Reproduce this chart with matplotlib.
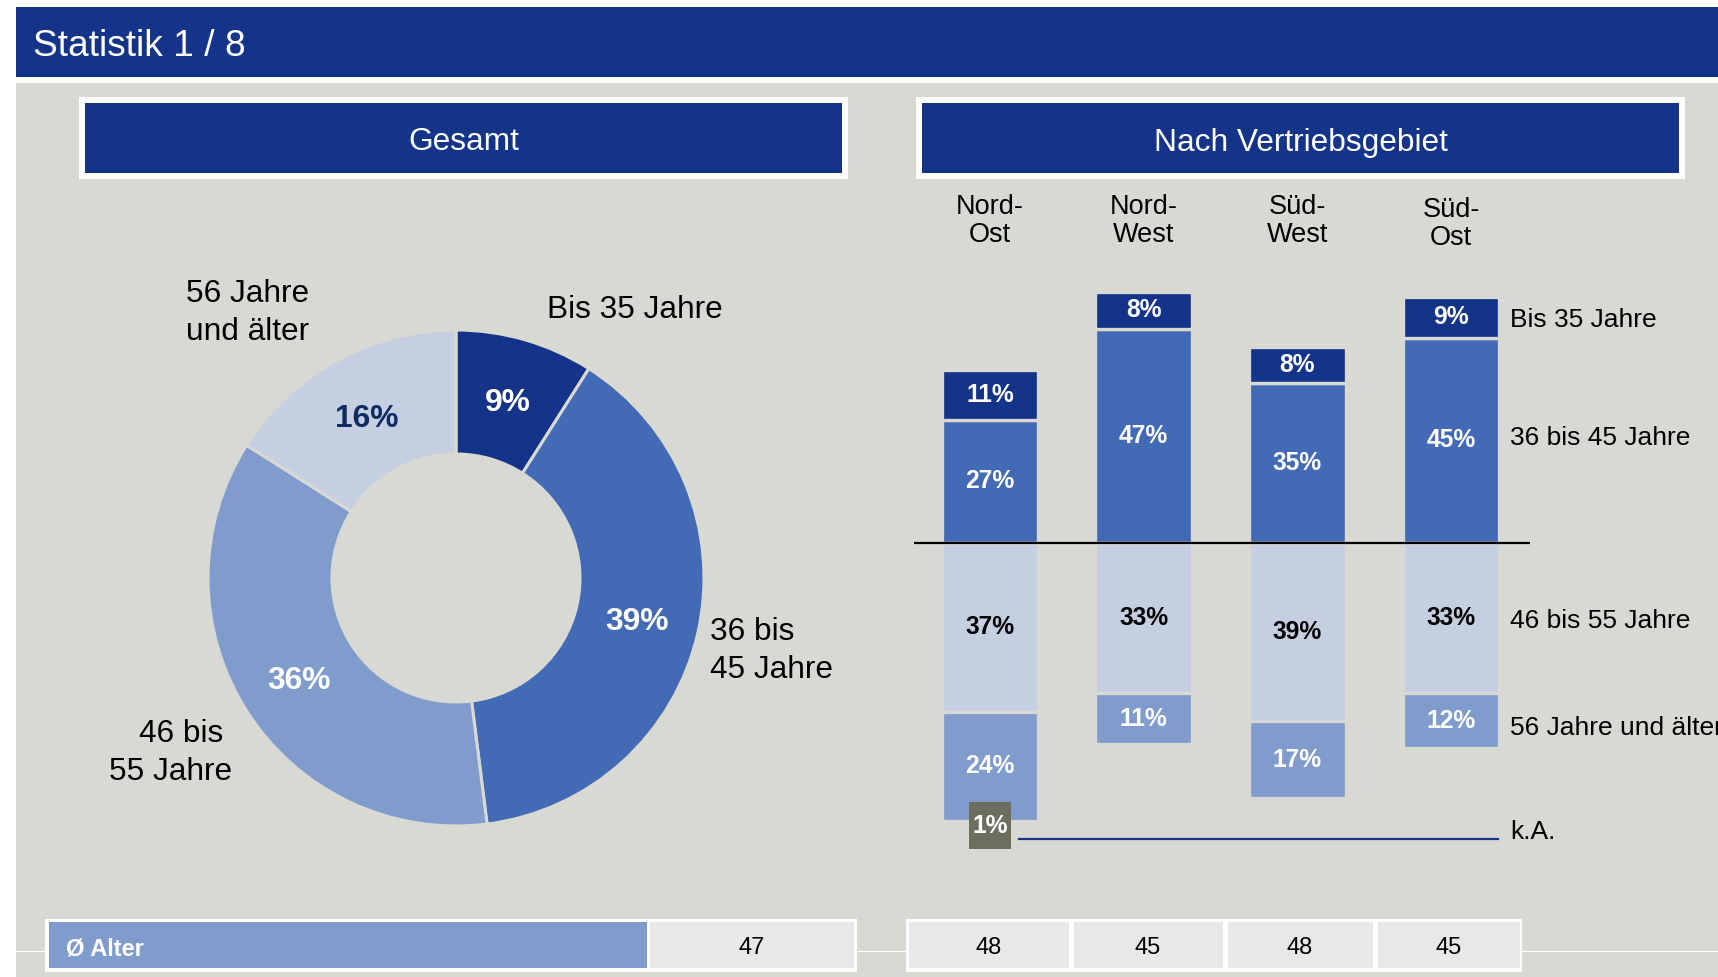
import matplotlib.pyplot as plt
from matplotlib.patches import Rectangle

plt.rcParams['font.family'] = ['Liberation Sans', 'DejaVu Sans']

# Altersverteilung gesamt
age_groups = ['Bis 35 Jahre', '36 bis 45 Jahre', '46 bis 55 Jahre', '56 Jahre und älter']
pie_labels = ['Bis 35 Jahre', '36 bis\n45 Jahre', '46 bis\n55 Jahre', '56 Jahre\nund älter']
total_share = [9, 39, 36, 16]

# Altersverteilung nach Vertriebsgebiet
regions = ['Nord-\nOst', 'Nord-\nWest', 'Süd-\nWest', 'Süd-\nOst']
bis_35 = [11, 8, 8, 9]
von_36_45 = [27, 47, 35, 45]
von_46_55 = [37, 33, 39, 33]
ab_56 = [24, 11, 17, 12]
keine_angabe = [1, 0, 0, 0]

# Durchschnittsalter
avg_total = 47
avg_region = [48, 45, 48, 45]

NAVY = '#143489'
MID = '#436AB4'
LIGHT = '#809CCC'
PALE = '#C5CFE2'
BG = '#D9D9D4'
GREY_BOX = '#6E6E60'
CELL = '#E8E8E6'

W, H = 1718, 977
fig = plt.figure(figsize=(W / 100, H / 100), dpi=100)
fig.patch.set_facecolor('white')


def px_axes(x0, y0, x1, y1, **kw):
    # Achsen über Pixelkoordinaten (Ursprung oben links)
    return fig.add_axes([x0 / W, (H - y1) / H, (x1 - x0) / W, (y1 - y0) / H], **kw)


# ---------- Hintergrund, Kopfzeile, Kästen ----------
bg = px_axes(0, 0, W, H, zorder=0)
bg.set_xlim(0, W)
bg.set_ylim(H, 0)
bg.axis('off')


def rect(x0, y0, x1, y1, color, z=1):
    bg.add_patch(Rectangle((x0, y0), x1 - x0, y1 - y0, facecolor=color, edgecolor='none', zorder=z))


rect(16, 83, W, H, BG)
rect(16, 7, W, 77, NAVY)
bg.text(33, 43, 'Statistik 1 / 8', color='white', fontsize=26.7, va='center_baseline', ha='left')

for (x0, x1, title) in [(79, 848, 'Gesamt'), (916, 1685, 'Nach Vertriebsgebiet')]:
    rect(x0, 97, x1, 179, 'white', 2)
    rect(x0 + 6, 103, x1 - 6, 173, NAVY, 3)
    bg.text((x0 + x1) / 2, 139, title, color='white', fontsize=22.8, ha='center',
            va='center_baseline', zorder=4)

# dünne Linie hinter der Tabelle
bg.plot([16, W], [951, 951], color='white', lw=0.8, zorder=1)

# ---------- Tabelle Ø Alter ----------
rect(45, 919, 857, 972, 'white', 2)
rect(49, 922, 647, 968, LIGHT, 3)
rect(650, 922, 854, 968, CELL, 3)
bg.text(66, 946, 'Ø Alter', color='white', fontsize=17, fontweight='bold', ha='left',
        va='center_baseline', zorder=4)
bg.text(752, 946, str(avg_total), color='black', fontsize=17, ha='center',
        va='center_baseline', zorder=4)

cell_edges = [906, 1071, 1225, 1375, 1522]
rect(906, 919, 1522, 972, 'white', 2)
for i, val in enumerate(avg_region):
    xa, xb = cell_edges[i] + 3, cell_edges[i + 1] - 2
    rect(xa, 922, xb, 968, CELL, 3)
    bg.text((cell_edges[i] + cell_edges[i + 1]) / 2, 946, str(val), fontsize=17,
            ha='center', va='center_baseline', zorder=4)

# ---------- Donut gesamt ----------
cx, cy, R = 456, 578, 248
pie_ax = px_axes(cx - R, cy - R, cx + R, cy + R, zorder=2)
pie_ax.set_facecolor('none')
wedges, _, pct = pie_ax.pie(total_share, colors=[NAVY, MID, LIGHT, PALE], startangle=90,
                            counterclock=False, radius=1, autopct='%.0f%%', pctdistance=0.75,
                            wedgeprops=dict(width=0.5, edgecolor=BG, linewidth=2.2))
for t, c in zip(pct, ['white', 'white', 'white', '#0F2B62']):
    t.set_color(c)
    t.set_fontsize(22.9)
    t.set_fontweight('bold')
    t.set_verticalalignment('center_baseline')
pie_ax.set_xlim(-1, 1)
pie_ax.set_ylim(-1, 1)

# Beschriftungen außen: (x, y) je Zeile
label_lines = [
    [(547, 306, 'left')],
    [(710, 629, 'left'), (710, 667, 'left')],
    [(181, 731, 'center'), (171, 769, 'center')],
    [(186, 290, 'left'), (186, 329, 'left')],
]
for lab, lines in zip(pie_labels, label_lines):
    for part, (x, y, ha) in zip(lab.split('\n'), lines):
        bg.text(x, y, part, fontsize=22.8, ha=ha, va='center_baseline', zorder=4)

# ---------- Balken nach Vertriebsgebiet ----------
PX_PER_PCT = 4.56
BASE_Y = 543
top_px, bot_px = 250, 870
bar_ax = px_axes(914, top_px, 1530, bot_px, zorder=2)
bar_ax.set_facecolor('none')
bar_ax.set_xlim(-0.4946, 3.514)
bar_ax.set_ylim(-(bot_px - BASE_Y) / PX_PER_PCT, (BASE_Y - top_px) / PX_PER_PCT)
bar_ax.axis('off')

x = list(range(len(regions)))
bw = 0.627
neg_46 = [-v for v in von_46_55]
neg_56 = [-v for v in ab_56]

segments = [
    (von_36_45, [0] * 4, MID, 'white', von_36_45),
    (bis_35, von_36_45, NAVY, 'white', bis_35),
    (neg_46, [0] * 4, PALE, 'black', von_46_55),
    (neg_56, neg_46, LIGHT, 'white', ab_56),
]
for heights, bottoms, color, tcol, vals in segments:
    bars = bar_ax.bar(x, heights, bottom=bottoms, width=bw, color=color,
                      edgecolor=BG, linewidth=2.4)
    bar_ax.bar_label(bars, labels=[f'{v}%' for v in vals], label_type='center',
                     color=tcol, fontsize=17.7, fontweight='bold')

bar_ax.axhline(0, color='black', lw=1.6)

# keine Angabe: graues Kästchen unter dem Balken
box_w, box_h = 0.278, 10.3
for i, v in enumerate(keine_angabe):
    if v:
        y_ka = -(von_46_55[i] + ab_56[i]) - 1.0
        bar_ax.add_patch(Rectangle((i - box_w / 2, y_ka - box_h / 2), box_w, box_h,
                                   facecolor=GREY_BOX, edgecolor='none', zorder=3))
        bar_ax.text(i, y_ka, f'{v}%', color='white', fontsize=17.7, fontweight='bold',
                    ha='center', va='center', zorder=4)
bar_ax.plot([0.19, 3 + bw / 2 - 0.01], [-65.0, -65.0], color=NAVY, lw=1.6)

# Gebietsnamen
for i, name in enumerate(regions):
    dy = -0.6 if i == 3 else 0
    bar_ax.text(i, 70.6 + dy, name, fontsize=19.5, ha='center', va='center', linespacing=1.1)

# Legende rechts neben dem letzten Balken
last = len(regions) - 1
legend_y = [
    von_36_45[last] + bis_35[last] / 2,
    von_36_45[last] / 2 + 1,
    -von_46_55[last] / 2,
    -von_46_55[last] - ab_56[last] / 2 - 1,
]
for lab, y in zip(age_groups, legend_y):
    bar_ax.text(3.384, y, lab, fontsize=19, ha='left', va='center_baseline')
bar_ax.text(3.384, -62.9, 'k.A.', fontsize=19, ha='left', va='center_baseline')

fig.savefig('out.png', dpi=100, facecolor=fig.get_facecolor())
